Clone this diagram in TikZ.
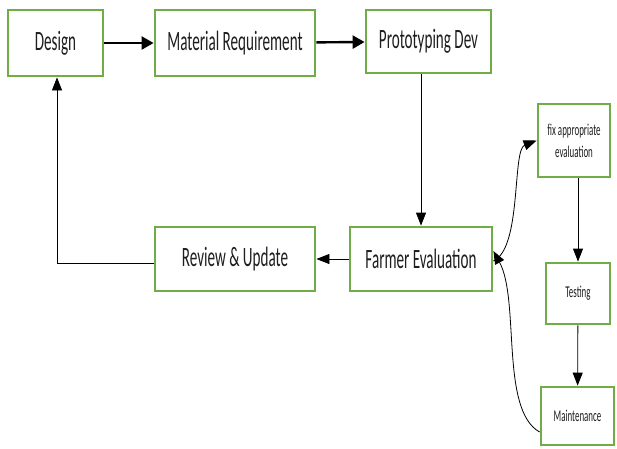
\documentclass[tikz,border=0pt]{standalone}
\usepackage{fontspec}
\setmainfont{Carlito}[FakeStretch=0.54]
\usetikzlibrary{arrows.meta}
\definecolor{boxgreen}{RGB}{112,173,71}
\definecolor{txt}{RGB}{30,30,30}
\begin{document}
\begin{tikzpicture}[x=1pt,y=-1pt,
  box/.style={draw=boxgreen,line width=2.8pt,fill=white,inner sep=0pt,text=txt,font=\fontsize{28}{30}\selectfont,align=center},
  sbox/.style={draw=boxgreen,line width=2.8pt,fill=white,inner sep=0pt,text=txt,font=\fontsize{16.5}{22}\selectfont,align=center},
  thick arrow/.style={line width=2.4pt,-{Triangle[length=12pt,width=13pt]}},
  thin arrow/.style={line width=0.8pt,-{Triangle[length=13pt,width=10pt]}}]
\useasboundingbox (0,0) rectangle (617,448);
\node[box,minimum width=95pt,minimum height=66pt] (design) at (55.5,43) {Design};
\node[box,minimum width=160pt,minimum height=66pt] (mat) at (235,43) {Material Requirement};
\node[box,minimum width=125pt,minimum height=63pt] (proto) at (428.5,41.5) {Prototyping Dev};
\node[box,minimum width=160pt,minimum height=64pt] (review) at (235,259) {Review \& Update};
\node[box,minimum width=142pt,minimum height=64pt] (farmer) at (421,259) {Farmer Evaluation};
\node[sbox,minimum width=72pt,minimum height=73pt] (fix) at (574,140.5) {fix appropriate\\evaluation};
\node[sbox,minimum width=64pt,minimum height=61pt] (test) at (578,293.5) {Testing};
\node[sbox,minimum width=73pt,minimum height=58pt] (maint) at (577.5,416) {Maintenance};
\draw[thick arrow] (design) -- (mat);
\draw[thick arrow] (mat) -- (proto);
\draw[thin arrow] (proto.south -| farmer.north) -- (farmer.north);
\draw[thin arrow] (farmer) -- (review);
\coordinate (corner) at (57,263);
\draw[thin arrow] (review.west |- corner) -- (corner) -- (corner |- design.south);
\draw[thin arrow] (farmer.east) ++(0,2) .. controls (522,248) and (512,150) .. (fix.west);
\draw[thin arrow] (fix.south -| 578,0) -- (test.north);
\draw[thin arrow] (test) -- (maint);
\draw[thin arrow] (maint.west) ++(0,16) .. controls (500,410) and (520,300) .. ([yshift=8pt]farmer.east);
\end{tikzpicture}
\end{document}
